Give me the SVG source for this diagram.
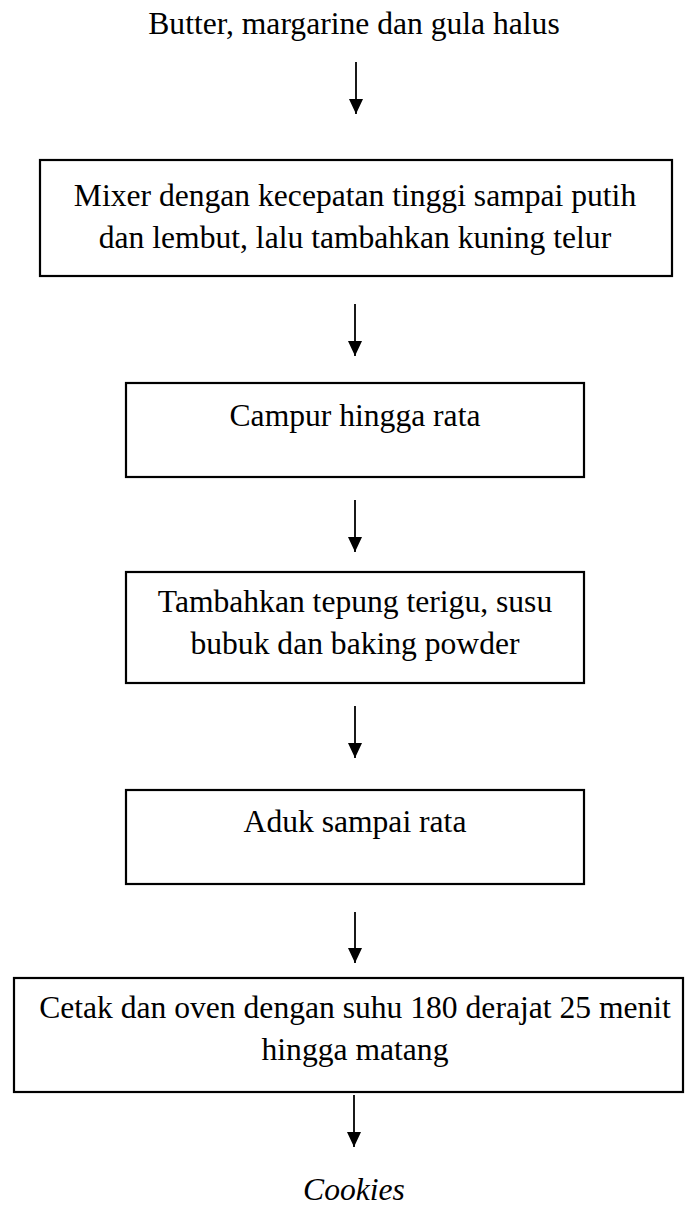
<svg xmlns="http://www.w3.org/2000/svg" width="685" height="1207" viewBox="0 0 685 1207">
  <style>
    .lbl { font-family: "Liberation Serif", "Times New Roman", serif; font-size: 31.6px; fill: #000; text-anchor: middle; }
    .it { font-style: italic; }
    .box { fill: #fff; stroke: #000; stroke-width: 2.2; }
    .flow { stroke: #000; stroke-width: 1.8; fill: none; marker-end: url(#head); }
  </style>
  <defs>
    <marker id="head" markerUnits="userSpaceOnUse" viewBox="0 0 15 14" refX="15" refY="7" markerWidth="15" markerHeight="14" orient="auto">
      <path d="M0,0 L15,7 L0,14 Z" fill="#000"/>
    </marker>
  </defs>

  <rect width="685" height="1207" fill="#fff"/>

  <!-- start ingredient -->
  <g id="start">
    <text class="lbl" x="354" y="34">Butter, margarine dan gula halus</text>
  </g>

  <g id="step-mixer">
    <rect class="box" x="40" y="160" width="632" height="116"/>
    <text class="lbl" x="355" y="206">Mixer dengan kecepatan tinggi sampai putih</text>
    <text class="lbl" x="355" y="248">dan lembut, lalu tambahkan kuning telur</text>
  </g>

  <g id="step-campur">
    <rect class="box" x="126" y="383" width="458" height="94"/>
    <text class="lbl" x="355" y="426">Campur hingga rata</text>
  </g>

  <g id="step-tepung">
    <rect class="box" x="126" y="572" width="458" height="111"/>
    <text class="lbl" x="355" y="612">Tambahkan tepung terigu, susu</text>
    <text class="lbl" x="355" y="654">bubuk dan baking powder</text>
  </g>

  <g id="step-aduk">
    <rect class="box" x="126" y="790" width="458" height="94"/>
    <text class="lbl" x="355" y="832">Aduk sampai rata</text>
  </g>

  <g id="step-oven">
    <rect class="box" x="14" y="978" width="669" height="114"/>
    <text class="lbl" x="355" y="1018">Cetak dan oven dengan suhu 180 derajat 25 menit</text>
    <text class="lbl" x="355" y="1060">hingga matang</text>
  </g>

  <g id="result">
    <text class="lbl it" x="354" y="1200">Cookies</text>
  </g>

  <!-- connectors -->
  <g id="connectors">
    <line class="flow" x1="356" y1="62" x2="356" y2="114"/>
    <line class="flow" x1="355" y1="304" x2="355" y2="356"/>
    <line class="flow" x1="355" y1="500" x2="355" y2="552"/>
    <line class="flow" x1="355" y1="706" x2="355" y2="758"/>
    <line class="flow" x1="355" y1="912" x2="355" y2="963"/>
    <line class="flow" x1="354" y1="1095" x2="354" y2="1147"/>
  </g>
</svg>
